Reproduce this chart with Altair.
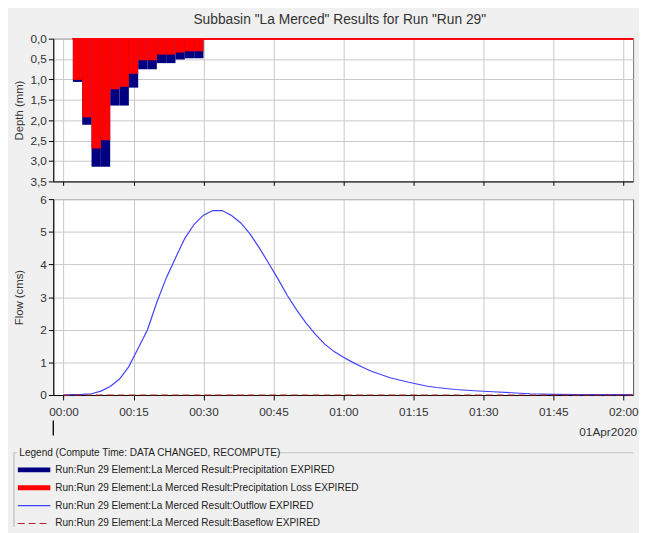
import altair as alt
import pandas as pd

# ---------------- data ----------------
title_text = 'Subbasin "La Merced" Results for Run "Run 29"'

# precipitation hyetograph, 2-minute blocks (minutes after 00:00)
block_start = [2, 4, 6, 8, 10, 12, 14, 16, 18, 20, 22, 24, 26, 28]
block_end = [4, 6, 8, 10, 12, 14, 16, 18, 20, 22, 24, 26, 28, 30]
precip_mm = [1.06, 2.11, 3.14, 3.14, 1.64, 1.64, 1.20, 0.75, 0.75, 0.60, 0.60, 0.51, 0.48, 0.48]
loss_mm = [1.01, 1.93, 2.69, 2.49, 1.24, 1.18, 0.86, 0.53, 0.53, 0.39, 0.39, 0.34, 0.31, 0.31]

# outflow hydrograph
time_min = [0, 2, 4, 6, 8, 10, 12, 14, 16, 18, 20, 22, 24, 26, 28, 30, 32, 34, 36, 38,
            40, 42, 44, 46, 48, 50, 52, 54, 56, 58, 60, 62, 64, 66, 68, 70, 72, 74, 76, 78,
            80, 84, 88, 92, 96, 100, 105, 110, 115, 120, 122]
outflow_cms = [0.0, 0.01, 0.02, 0.04, 0.12, 0.26, 0.49, 0.87, 1.43, 2.0, 2.84, 3.58, 4.2, 4.8,
               5.23, 5.51, 5.65, 5.65, 5.5, 5.27, 4.93, 4.5, 4.03, 3.55, 3.04, 2.6, 2.2, 1.86,
               1.56, 1.33, 1.16, 1.0, 0.86, 0.73, 0.63, 0.53, 0.46, 0.39, 0.33, 0.27, 0.23,
               0.17, 0.13, 0.1, 0.07, 0.04, 0.02, 0.01, 0.01, 0.01, 0.01]

baseflow_time = [0, 122]
baseflow_cms = [0.0, 0.0]

x_domain = [-2.2, 122.1]
x_ticks = [0, 15, 30, 45, 60, 75, 90, 105, 120]
depth_ticks = [0.0, 0.5, 1.0, 1.5, 2.0, 2.5, 3.0, 3.5]
flow_ticks = [0, 1, 2, 3, 4, 5, 6]
date_label = ["01Apr2020"]

legend_title = ["Legend (Compute Time: DATA CHANGED, RECOMPUTE)"]
legend_names = [
    "Run:Run 29 Element:La Merced Result:Precipitation EXPIRED",
    "Run:Run 29 Element:La Merced Result:Precipitation Loss EXPIRED",
    "Run:Run 29 Element:La Merced Result:Outflow EXPIRED",
    "Run:Run 29 Element:La Merced Result:Baseflow EXPIRED",
]
legend_colors = ["#000080", "#FF0000", "#4040FF", "#B22222"]

# ---------------- styling ----------------
W = 589
H_TOP = 145
H_BOT = 199
FONT = "Liberation Sans"
GRID = "#C8C8C8"
TXT = "#333333"
LEG_DY = 4

time_label = ("(floor(datum.value/60) < 10 ? '0' : '') + floor(datum.value/60) + ':' + "
              "(datum.value % 60 < 10 ? '0' : '') + (datum.value % 60)")

xscale = alt.Scale(domain=x_domain, nice=False, zero=False)

x_axis_top = alt.Axis(values=x_ticks, tickCount=30, labels=False, ticks=True, tickSize=4,
                      grid=True, gridColor=GRID, domainColor="black", tickColor="black",
                      title=None)
x_axis_bot = alt.Axis(values=x_ticks, tickCount=30, labelExpr=time_label, tickSize=5,
                      labelPadding=7, grid=True, gridColor=GRID, domainColor="black",
                      tickColor="black", labelFontSize=12, labelColor=TXT, labelFont=FONT,
                      title=None, labelFlush=False, labelOverlap=False)

y_axis_top = alt.Axis(values=depth_ticks, tickCount=30, format=".1f",
                      labelExpr="replace(datum.label, '.', ',')",
                      tickSize=5, labelPadding=2, grid=True, gridColor=GRID, domainColor="black",
                      tickColor="black", labelFontSize=12, labelColor=TXT, labelFont=FONT,
                      labelOverlap=False, labelFlush=False,
                      title="Depth (mm)", titleFontSize=11.5, titleFontWeight="normal",
                      titleColor=TXT, titleFont=FONT, titleX=-29, titleY=H_TOP / 2)
y_axis_bot = alt.Axis(values=flow_ticks, tickCount=30, format="d", tickSize=5, labelPadding=2,
                      grid=True, gridColor=GRID, domainColor="black", tickColor="black",
                      labelFontSize=12, labelColor=TXT, labelFont=FONT, labelOverlap=False,
                      labelFlush=False, title="Flow (cms)", titleFontSize=11.5,
                      titleFontWeight="normal", titleColor=TXT, titleFont=FONT, titleX=-29,
                      titleY=H_BOT / 2)

# ---------------- top panel: depth ----------------
hy = pd.DataFrame({"start": block_start, "end": block_end, "precip": precip_mm, "loss": loss_mm})
ytop = alt.Scale(domain=[0, 3.5], reverse=True, nice=False, zero=False)

precip_bars = alt.Chart(hy).mark_rect(color="#000080").encode(
    x=alt.X("start:Q", scale=xscale, axis=x_axis_top),
    x2="end:Q",
    y=alt.Y("precip:Q", scale=ytop, axis=y_axis_top),
    y2=alt.datum(0),
)
loss_bars = alt.Chart(hy).mark_rect(color="#FF0000").encode(
    x="start:Q", x2="end:Q", y="loss:Q", y2=alt.datum(0)
)
loss_zero = alt.Chart(hy).mark_rule(color="#FF0000", strokeWidth=1).encode(
    x=alt.datum(block_start[0]), x2=alt.datum(x_domain[1]), y=alt.datum(0)
)
top = alt.layer(precip_bars, loss_bars, loss_zero).properties(
    width=W, height=H_TOP, view=alt.ViewBackground(fill="white", stroke="#777777")
)

# ---------------- bottom panel: flow ----------------
flow = pd.DataFrame({"t": time_min, "q": outflow_cms})
base = pd.DataFrame({"t": baseflow_time, "q": baseflow_cms})
ybot = alt.Scale(domain=[0, 6], nice=False)

outflow_line = alt.Chart(flow).mark_line(color="#4040FF", strokeWidth=1.2).encode(
    x=alt.X("t:Q", scale=xscale, axis=x_axis_bot),
    y=alt.Y("q:Q", scale=ybot, axis=y_axis_bot),
)
baseflow_line = alt.Chart(base).mark_line(color="#B22222", strokeWidth=1.2,
                                          strokeDash=[7, 4]).encode(x="t:Q", y="q:Q")
day_marker = alt.Chart(base).mark_rule(color="black", strokeWidth=1).encode(
    x=alt.value(0), y=alt.value(H_BOT + 26), y2=alt.value(H_BOT + 41)
)
day_text = alt.Chart(pd.DataFrame({"d": date_label})).mark_text(
    align="right", baseline="middle", fontSize=12, font=FONT, color=TXT
).encode(text="d:N", x=alt.value(W + 4), y=alt.value(H_BOT + 38))

bottom = alt.layer(outflow_line, baseflow_line, day_marker, day_text).properties(
    width=W, height=H_BOT, view=alt.ViewBackground(fill="white", stroke="#555555")
)

# ---------------- legend panel ----------------
leg = pd.DataFrame({"name": legend_names, "color": legend_colors})
ypt = alt.Scale(type="point", domain=legend_names,
                range=[54 + LEG_DY, 108.5 + LEG_DY], padding=0)

sym_thick = alt.Chart(leg).transform_filter(
    alt.FieldOneOfPredicate(field="name", oneOf=legend_names[:2])
).mark_rule(strokeWidth=5).encode(
    x=alt.value(-36), x2=alt.value(-3),
    y=alt.Y("name:N", scale=ypt, axis=None),
    color=alt.Color("color:N", scale=None),
)
sym_thin = alt.Chart(leg).transform_filter(
    alt.FieldEqualPredicate(field="name", equal=legend_names[2])
).mark_rule(strokeWidth=1.2).encode(
    x=alt.value(-36), x2=alt.value(-3),
    y=alt.Y("name:N", scale=ypt, axis=None),
    color=alt.Color("color:N", scale=None),
)
sym_dash = alt.Chart(leg).transform_filter(
    alt.FieldEqualPredicate(field="name", equal=legend_names[3])
).mark_rule(strokeWidth=1.1, strokeDash=[7, 4]).encode(
    x=alt.value(-36), x2=alt.value(-3),
    y=alt.Y("name:N", scale=ypt, axis=None),
    color=alt.Color("color:N", scale=None),
)
leg_txt = alt.Chart(leg).mark_text(align="left", baseline="middle", fontSize=10.2,
                                   font=FONT, color="#222222").encode(
    x=alt.value(2), y=alt.Y("name:N", scale=ypt, axis=None), text="name:N"
)
leg_head = alt.Chart(pd.DataFrame({"t": legend_title})).mark_text(
    align="left", baseline="middle", fontSize=10.2, font=FONT, color="#222222"
).encode(text="t:N", x=alt.value(-34.5), y=alt.value(36.5 + LEG_DY))
box_a = alt.Chart(leg).mark_rule(color="#CFCFCF").encode(
    x=alt.value(-40), x2=alt.value(-37), y=alt.value(36.5 + LEG_DY))
box_b = alt.Chart(leg).mark_rule(color="#CFCFCF").encode(
    x=alt.value(228), x2=alt.value(W), y=alt.value(36.5 + LEG_DY))
box_c = alt.Chart(leg).mark_rule(color="#CFCFCF").encode(
    x=alt.value(-40), y=alt.value(36.5 + LEG_DY), y2=alt.value(112 + LEG_DY))

legend = alt.layer(box_a, box_b, box_c, leg_head, sym_thick, sym_thin, sym_dash, leg_txt).properties(
    width=W, height=100, view=alt.ViewBackground(fillOpacity=0, strokeOpacity=0)
)

chart = alt.vconcat(top, bottom, legend, spacing=18, bounds="flush").properties(
    title=alt.TitleParams(text=title_text, fontSize=14, fontWeight="normal", color=TXT,
                          font=FONT, anchor="middle", dx=14, offset=5),
    padding={"left": 5, "top": 1, "right": 0, "bottom": 0},
).configure(background="#F0F0F0").configure_axis(
    labelFont=FONT, titleFont=FONT
)

chart.save("out.html", embed_options={"renderer": "svg", "actions": False})
